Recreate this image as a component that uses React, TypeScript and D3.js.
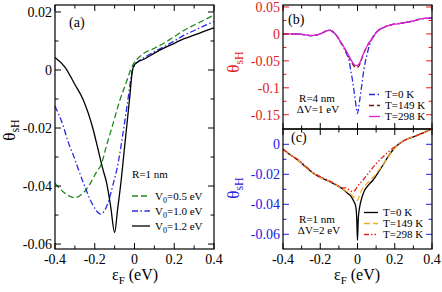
import React from "react";
import { scaleLinear, line, curveMonotoneX, range } from "d3";

const W = 442;
const H = 292;
const font = "Liberation Serif";

// panel (a): V0 sweep at R = 1 nm
const aX12 = [-0.4, -0.35, -0.3, -0.26, -0.21, -0.186, -0.16, -0.14, -0.12, -0.1, -0.085, -0.067, -0.05, -0.04, -0.025, -0.01, 0.0, 0.025, 0.05, 0.1, 0.15, 0.2, 0.25, 0.3, 0.35, 0.4];
const aY12 = [0.0043, 0.001, -0.005, -0.01, -0.02, -0.0266, -0.034, -0.039, -0.047, -0.056, -0.048, -0.038, -0.0266, -0.02, -0.01, 0.0, 0.0018, 0.0031, 0.0038, 0.0058, 0.0076, 0.0092, 0.0108, 0.012, 0.0133, 0.0145];
const aX10 = [-0.4, -0.36, -0.335, -0.31, -0.26, -0.21, -0.17, -0.134, -0.11, -0.084, -0.059, -0.034, -0.01, 0.02, 0.05, 0.1, 0.15, 0.2, 0.25, 0.3, 0.35, 0.4];
const aY10 = [-0.0125, -0.019, -0.0246, -0.029, -0.0384, -0.0465, -0.0497, -0.0459, -0.04, -0.0327, -0.0223, -0.0107, 0.0, 0.003, 0.0043, 0.0063, 0.0081, 0.01, 0.012, 0.0136, 0.0152, 0.0167];
const aX05 = [-0.4, -0.35, -0.3, -0.26, -0.226, -0.19, -0.168, -0.143, -0.11, -0.075, -0.04, -0.02, 0.042, 0.1, 0.15, 0.2, 0.25, 0.3, 0.35, 0.4];
const aY05 = [-0.039, -0.0425, -0.044, -0.0425, -0.0395, -0.035, -0.0327, -0.0266, -0.019, -0.0107, -0.004, 0.0, 0.0055, 0.0075, 0.0093, 0.0115, 0.0137, 0.0155, 0.0172, 0.019];

// panel (b): temperature sweep, R = 4 nm, dV = 1 eV
const bX = [-0.4, -0.35, -0.3, -0.25, -0.2, -0.17, -0.15, -0.12, -0.09, -0.06, -0.04, -0.02, -0.005, 0.01, 0.03, 0.054, 0.08, 0.107, 0.14, 0.18, 0.22, 0.27, 0.3, 0.34, 0.37, 0.4];
const bY298 = [0.0, 0.0, -0.001, -0.003, 0.0, 0.005, 0.007, 0.0, -0.015, -0.032, -0.045, -0.056, -0.059, -0.055, -0.038, -0.021, -0.008, 0.005, 0.012, 0.017, 0.019, 0.022, 0.024, 0.028, 0.029, 0.03];
const bY149 = [0.0, 0.0, -0.001, -0.003, 0.0, 0.005, 0.007, 0.0, -0.015, -0.033, -0.047, -0.059, -0.063, -0.058, -0.039, -0.021, -0.008, 0.005, 0.012, 0.017, 0.019, 0.022, 0.024, 0.028, 0.029, 0.03];
const bX0 = [-0.4, -0.35, -0.3, -0.25, -0.2, -0.17, -0.15, -0.12, -0.09, -0.06, -0.045, -0.035, -0.025, -0.015, -0.005, 0.0, 0.005, 0.015, 0.025, 0.035, 0.05, 0.065, 0.08, 0.107, 0.14, 0.18, 0.22, 0.27, 0.3, 0.34, 0.37, 0.4];
const bY0 = [0.0, 0.0, -0.001, -0.003, 0.0, 0.005, 0.007, 0.0, -0.016, -0.036, -0.05, -0.07, -0.09, -0.115, -0.14, -0.148, -0.14, -0.115, -0.09, -0.065, -0.04, -0.02, -0.007, 0.005, 0.012, 0.017, 0.019, 0.022, 0.024, 0.028, 0.029, 0.03];

// panel (c): temperature sweep, R = 1 nm, dV = 2 eV
const cX0 = [-0.4, -0.35, -0.31, -0.27, -0.238, -0.2, -0.149, -0.11, -0.078, -0.05, -0.033, -0.02, -0.009, -0.004, 0.0, 0.004, 0.012, 0.025, 0.039, 0.06, 0.084, 0.11, 0.137, 0.16, 0.19, 0.22, 0.25, 0.3, 0.35, 0.4];
const cY0 = [-0.0033, -0.008, -0.0116, -0.016, -0.0193, -0.022, -0.025, -0.0275, -0.03, -0.033, -0.035, -0.038, -0.0416, -0.05, -0.064, -0.05, -0.0416, -0.035, -0.0305, -0.027, -0.0238, -0.019, -0.0138, -0.009, -0.0038, 0.0, 0.0025, 0.005, 0.0075, 0.0105];
const cX149 = [-0.4, -0.35, -0.31, -0.27, -0.238, -0.2, -0.149, -0.11, -0.078, -0.05, -0.03, -0.015, -0.005, 0.0, 0.01, 0.025, 0.04, 0.06, 0.084, 0.11, 0.137, 0.16, 0.19, 0.22, 0.25, 0.3, 0.35, 0.4];
const cY149 = [-0.0033, -0.008, -0.0116, -0.016, -0.0193, -0.022, -0.025, -0.0275, -0.03, -0.032, -0.034, -0.036, -0.037, -0.0375, -0.034, -0.03, -0.0275, -0.025, -0.022, -0.018, -0.0135, -0.009, -0.0038, 0.0, 0.0025, 0.005, 0.0075, 0.0105];
const cX298 = [-0.4, -0.35, -0.31, -0.27, -0.238, -0.2, -0.149, -0.11, -0.078, -0.06, -0.04, -0.025, -0.01, 0.0, 0.03, 0.06, 0.1, 0.14, 0.18, 0.22, 0.25, 0.3, 0.35, 0.4];
const cY298 = [-0.0033, -0.0078, -0.011, -0.0155, -0.019, -0.0215, -0.0245, -0.027, -0.029, -0.029, -0.031, -0.0315, -0.03, -0.028, -0.0238, -0.019, -0.013, -0.008, -0.0035, 0.0, 0.0025, 0.005, 0.0075, 0.0105];

const xTickLabels = [-0.4, -0.2, 0, 0.2, 0.4];
const aYTicks = [0.02, 0, -0.02, -0.04, -0.06];
const bYTicks = [0.05, 0, -0.05, -0.1, -0.15];
const cYTicks = [0, -0.02, -0.04, -0.06];

const legendA = [
  { label: "0.5", color: "#1e8a1e", dash: "6,3", x: aX05, y: aY05 },
  { label: "1.0", color: "#2a2ae0", dash: "6,2.5,1.5,2.5", x: aX10, y: aY10 },
  { label: "1.2", color: "#000", dash: "", x: aX12, y: aY12 },
];
const legendB = [
  { label: "T=0 K", color: "#2a2ae0", dash: "6,2.5,1.5,2.5", x: bX0, y: bY0 },
  { label: "T=149 K", color: "#7a1010", dash: "5,3", x: bX, y: bY149 },
  { label: "T=298 K", color: "#e020e0", dash: "", x: bX, y: bY298 },
];
const legendC = [
  { label: "T=0 K", color: "#000", dash: "", x: cX0, y: cY0 },
  { label: "T=149 K", color: "#f0b020", dash: "6,3", x: cX149, y: cY149 },
  { label: "T=298 K", color: "#e82020", dash: "5,2,1.5,2,1.5,2", x: cX298, y: cY298 },
];

const fmt = (v) => (v === 0 ? "0" : String(v));

function Frame({ x, y, xMajor, xMinor, yMajor, yMinor, yColor, xLabels, yLabels }) {
  const [x0, x1] = x.range();
  const [y1, y0] = y.range();
  const major = 6;
  const minor = 3.5;
  return (
    <g>
      {xMajor.concat(xMinor).map((t, i) => {
        const len = i < xMajor.length ? major : minor;
        return (
          <g key={`xt${i}`} stroke="#000" strokeWidth={1}>
            <line x1={x(t)} x2={x(t)} y1={y1} y2={y1 - len} />
            <line x1={x(t)} x2={x(t)} y1={y0} y2={y0 + len} />
          </g>
        );
      })}
      {yMajor.concat(yMinor).map((t, i) => {
        const len = i < yMajor.length ? major : minor;
        return (
          <g key={`yt${i}`} stroke={yColor} strokeWidth={1}>
            <line x1={x0} x2={x0 + len} y1={y(t)} y2={y(t)} />
            <line x1={x1} x2={x1 - len} y1={y(t)} y2={y(t)} />
          </g>
        );
      })}
      <rect x={x0} y={y0} width={x1 - x0} height={y1 - y0} fill="none" stroke="#000" strokeWidth={1.2} />
      {xLabels &&
        xLabels.map((t) => (
          <text key={`xl${t}`} x={x(t)} y={y1 + 15} textAnchor="middle" fontSize={14} fill="#000">
            {fmt(t)}
          </text>
        ))}
      {yLabels.map((t) => (
        <text key={`yl${t}`} x={x0 - 3} y={y(t)} dy="0.35em" textAnchor="end" fontSize={14} fill={yColor}>
          {fmt(t)}
        </text>
      ))}
    </g>
  );
}

function Curves({ series, x, y }) {
  const path = line()
    .x((d) => x(d[0]))
    .y((d) => y(d[1]))
    .curve(curveMonotoneX);
  return (
    <g>
      {series.map((s) => (
        <path
          key={s.label}
          d={path(s.x.map((v, i) => [v, s.y[i]]))}
          fill="none"
          stroke={s.color}
          strokeWidth={1.3}
          strokeDasharray={s.dash}
        />
      ))}
    </g>
  );
}

function YTitle({ x, y, color }) {
  return (
    <text transform={`translate(${x},${y}) rotate(-90)`} textAnchor="middle" fontSize={17} fill={color}>
      θ<tspan fontSize={12} dy={4}>sH</tspan>
    </text>
  );
}

function XTitle({ x, y }) {
  return (
    <text x={x} y={y} textAnchor="middle" fontSize={16} fill="#000">
      ε<tspan fontSize={11} dy={4}>F</tspan>
      <tspan dy={-4}> (eV)</tspan>
    </text>
  );
}

function Legend({ series, x, y, step, lineLen, prefix }) {
  return (
    <g fontSize={11}>
      {series.map((s, i) => (
        <g key={s.label} transform={`translate(${x},${y + i * step})`}>
          <line x1={0} x2={lineLen} stroke={s.color} strokeWidth={1.3} strokeDasharray={s.dash} />
          <text x={lineLen + 5} dy="0.35em" fill="#000">
            {prefix ? (
              <>
                V<tspan fontSize={8} dy={3}>0</tspan>
                <tspan dy={-3}>={s.label} eV</tspan>
              </>
            ) : (
              s.label
            )}
          </text>
        </g>
      ))}
    </g>
  );
}

export default function App() {
  const xA = scaleLinear().domain([-0.4, 0.4]).range([55, 214]);
  const yA = scaleLinear().domain([-0.0617, 0.0224]).range([249, 5]);
  const xB = scaleLinear().domain([-0.4, 0.4]).range([283, 432]);
  const yB = scaleLinear().domain([-0.1765, 0.0537]).range([129, 5]);
  const yC = scaleLinear().domain([-0.0698, 0.0102]).range([249, 129]);

  const xMajor = xTickLabels;
  const xMinor = [-0.3, -0.1, 0.1, 0.3];

  return (
    <svg width={W} height={H} style={{ position: "absolute", left: 0, top: 0, background: "#fff" }}>
      <g fontFamily={font}>
        {/* (a) */}
        <Curves series={legendA} x={xA} y={yA} />
        <Frame
          x={xA}
          y={yA}
          xMajor={xMajor}
          xMinor={xMinor}
          yMajor={aYTicks}
          yMinor={range(-0.05, 0.02, 0.02)}
          yColor="#000"
          xLabels={xTickLabels}
          yLabels={aYTicks}
        />
        <text x={69} y={27} fontSize={14}>(a)</text>
        <text x={150} y={178} textAnchor="middle" fontSize={11}>R=1 nm</text>
        <Legend series={legendA} x={132} y={196} step={15} lineLen={18} prefix />
        <YTitle x={15} y={130} color="#000" />
        <XTitle x={135} y={280} />

        {/* (b) */}
        <Curves series={legendB} x={xB} y={yB} />
        <Frame
          x={xB}
          y={yB}
          xMajor={xMajor}
          xMinor={xMinor}
          yMajor={bYTicks}
          yMinor={[0.025, -0.025, -0.075, -0.125]}
          yColor="#e02020"
          yLabels={bYTicks}
        />
        <text x={288} y={24} fontSize={14}>(b)</text>
        <text x={317} y={102} textAnchor="middle" fontSize={11}>R=4 nm</text>
        <text x={318} y={113} textAnchor="middle" fontSize={11}>ΔV=1 eV</text>
        <Legend series={legendB} x={369} y={94.5} step={11} lineLen={11} />
        <YTitle x={239} y={62} color="#e02020" />

        {/* (c) */}
        <Curves series={legendC} x={xB} y={yC} />
        <Frame
          x={xB}
          y={yC}
          xMajor={xMajor}
          xMinor={xMinor}
          yMajor={cYTicks}
          yMinor={[-0.01, -0.03, -0.05]}
          yColor="#2020e0"
          xLabels={xTickLabels}
          yLabels={cYTicks}
        />
        <text x={291} y={142} fontSize={14}>(c)</text>
        <text x={317} y={223} textAnchor="middle" fontSize={11}>R=1 nm</text>
        <text x={319} y={234} textAnchor="middle" fontSize={11}>ΔV=2 eV</text>
        <Legend series={legendC} x={364} y={212.5} step={11} lineLen={14} />
        <YTitle x={239} y={188} color="#2020e0" />
        <XTitle x={357} y={280} />
      </g>
    </svg>
  );
}
